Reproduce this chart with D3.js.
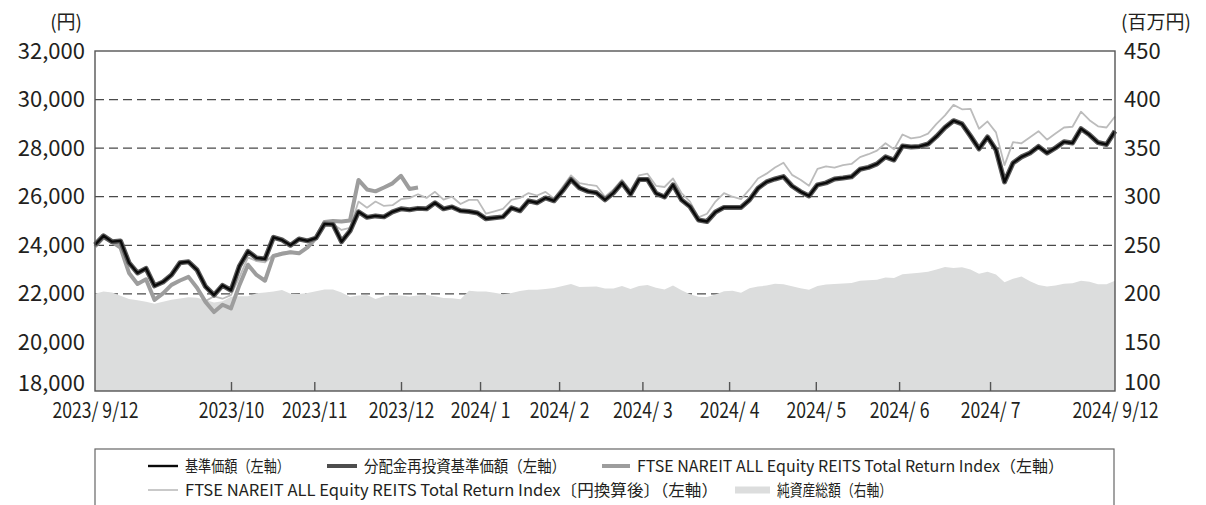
<!doctype html>
<html lang="ja">
<head>
<meta charset="UTF-8">
<title>基準価額の推移</title>
<style>
    body { margin: 0; background: #fff; }
    svg text { font-family: 'Noto Sans CJK JP', 'Noto Sans', sans-serif; fill: #231f20; }
</style>
</head>
<body>
<svg id="chart" width="1206" height="505"></svg>
<script src="https://cdn.jsdelivr.net/npm/d3@7"></script>
<script>
// 基準価額（円）
var nav = [
    24020, 24390, 24150, 24180, 23280, 22860, 23050, 22330, 22490, 22780,
    23280, 23320, 22990, 22300, 21950, 22350, 22150, 23150, 23750, 23480,
    23440, 24330, 24220, 24000, 24260, 24180, 24300, 24880, 24860, 24150,
    24590, 25380, 25150, 25210, 25170, 25380, 25500, 25460, 25520, 25500,
    25750, 25500, 25580, 25420, 25390, 25330, 25090, 25130, 25170, 25540,
    25420, 25830, 25750, 25950, 25830, 26240, 26710, 26360, 26220, 26160,
    25870, 26160, 26570, 26100, 26710, 26710, 26140, 25990, 26490, 25870,
    25590, 25040, 24980, 25370, 25560, 25560, 25560, 25870, 26350, 26610,
    26730, 26830, 26440, 26210, 26030, 26490, 26570, 26730, 26770, 26820,
    27130, 27210, 27350, 27640, 27510, 28090, 28050, 28070, 28170, 28480,
    28850, 29130, 29000, 28500, 27970, 28460, 27930, 26610, 27390, 27640,
    27800, 28070, 27800, 28010, 28260, 28210, 28800, 28550, 28230, 28150,
    28700
];
// 分配金再投資基準価額（円）
var navReinvest = [
    24020, 24390, 24150, 24180, 23280, 22860, 23050, 22330, 22490, 22780,
    23280, 23320, 22990, 22300, 21950, 22350, 22150, 23150, 23750, 23480,
    23440, 24330, 24220, 24000, 24260, 24180, 24300, 24880, 24860, 24150,
    24590, 25380, 25150, 25210, 25170, 25380, 25500, 25460, 25520, 25500,
    25750, 25500, 25580, 25420, 25390, 25330, 25090, 25130, 25170, 25540,
    25420, 25830, 25750, 25950, 25830, 26240, 26710, 26360, 26220, 26160,
    25870, 26160, 26570, 26100, 26710, 26710, 26140, 25990, 26490, 25870,
    25590, 25040, 24980, 25370, 25560, 25560, 25560, 25870, 26350, 26610,
    26730, 26830, 26440, 26210, 26030, 26490, 26570, 26730, 26770, 26820,
    27130, 27210, 27350, 27640, 27510, 28090, 28050, 28070, 28170, 28480,
    28850, 29130, 29000, 28500, 27970, 28460, 27930, 26610, 27390, 27640,
    27800, 28070, 27800, 28010, 28260, 28210, 28800, 28550, 28230, 28150,
    28700
];
// FTSE NAREIT ALL Equity REITS Total Return Index（2023/12途中まで）
var reitIndex = [
    23950, 24330, 24140, 23900, 22860, 22410, 22600, 21750, 22020, 22370,
    22550, 22700, 22250, 21670, 21250, 21550, 21400, 22370, 23200, 22780,
    22540, 23560, 23650, 23710, 23670, 23910, 24300, 24960, 25000, 24980,
    25020, 26690, 26300, 26220, 26380, 26550, 26860, 26320, 26380
];
// FTSE NAREIT ALL Equity REITS Total Return Index〔円換算後〕
var reitIndexJpy = [
    23950, 24330, 24140, 23900, 22870, 22420, 22600, 21760, 22030, 22380,
    22560, 22710, 22260, 21700, 21900, 21800, 21950, 22700, 23500, 23350,
    23300, 23600, 23700, 23750, 23700, 23930, 24320, 24980, 24880, 24630,
    24720, 25800, 25550, 25800, 25620, 25650, 25900, 25940, 26100, 25950,
    26200, 25880, 26000, 25700, 25870, 25870, 25300, 25400, 25500, 25870,
    25950, 26150, 26050, 26200, 25930, 26400, 26880, 26560, 26500, 26450,
    26000, 26300, 26700, 26250, 26880, 26950, 26450, 26400, 26750, 26150,
    25800, 25150, 25300, 25800, 26150, 26000, 25900, 26300, 26750, 26950,
    27200, 27400, 26900, 26700, 26450, 27150, 27250, 27200, 27300, 27350,
    27630, 27750, 27900, 28200, 27950, 28560, 28400, 28450, 28600, 29000,
    29350, 29780, 29600, 29620, 28800, 29100, 28650, 27300, 28250, 28200,
    28450, 28700, 28350, 28600, 28850, 28880, 29500, 29150, 28900, 28850,
    29300
];
// 純資産総額（百万円）
var netAssets = [
    200, 202.5, 201.5, 198, 194.8, 193.3, 191.8, 189.8, 191.9, 194,
    195.1, 196.5, 196.1, 193.7, 191, 192.5, 197, 197.6, 197.5, 200.5,
    201.5, 202.5, 204, 200.2, 199.8, 200.8, 202.7, 204.5, 204.5, 201.3,
    197, 198.3, 198.9, 194.8, 197.5, 198.5, 198.3, 197.3, 198.2, 198.8,
    197.6, 195.8, 195.6, 194.5, 203.2, 202.5, 202.4, 201.2, 199.6, 200.8,
    203, 204.1, 204.1, 205, 206, 208, 210.1, 207, 207.2, 207.5,
    205.4, 205.5, 208, 205, 208, 209.2, 206.3, 204.5, 208.5, 203.8,
    199.5, 197, 196.7, 199.3, 202.7, 203.3, 201.2, 205.7, 207.5, 208.5,
    210.3, 210, 207.8, 205.7, 204.3, 208, 209.7, 210.2, 210.6, 211.3,
    213.4, 213.9, 214.5, 216.9, 216.3, 220.3, 221, 221.6, 222.7, 225,
    227.7, 226.5, 227.5, 225, 220.8, 222.8, 220, 212, 215.6, 217.9,
    213, 209, 207.5, 208.7, 210.4, 210.9, 213.4, 212.5, 209.9, 209.8,
    213.4
];

// x軸の目盛り（データ番号上の位置）
var tickIndex = [0, 16, 25.8, 36, 45.3, 54.6, 64.4, 74.6, 84.8, 94.6, 105.3, 120];
var tickLabels = ['2023/ 9/12', '2023/10', '2023/11', '2023/12', '2024/ 1', '2024/ 2',
    '2024/ 3', '2024/ 4', '2024/ 5', '2024/ 6', '2024/ 7', '2024/ 9/12'];
var leftTicks = [18000, 20000, 22000, 24000, 26000, 28000, 30000, 32000];
var rightTicks = [100, 150, 200, 250, 300, 350, 400, 450];
var gridTicks = [22000, 24000, 26000, 28000, 30000];

var plotLeft = 95, plotRight = 1115, plotTop = 51, plotBottom = 391;
var svg = d3.select('#chart');

var x = d3.scaleLinear().domain([0, nav.length - 1]).range([plotLeft, plotRight]);
var yL = d3.scaleLinear().domain([18000, 32000]).range([plotBottom, plotTop]);
var yR = d3.scaleLinear().domain([100, 450]).range([plotBottom, plotTop]);

// grid
svg.append('g').selectAll('line').data(gridTicks).enter().append('line')
    .attr('x1', plotLeft).attr('x2', plotRight)
    .attr('y1', function(d) { return yL(d) }).attr('y2', function(d) { return yL(d) })
    .attr('stroke', '#4a4a4a').attr('stroke-width', 1.3).attr('stroke-dasharray', '9,5');

// 純資産総額
var area = d3.area()
    .x(function(d, i) { return x(i) })
    .y0(plotBottom)
    .y1(function(d) { return yR(d) });
svg.append('path').attr('d', area(netAssets)).attr('fill', '#dcdddd');

function line(scale) {
    return d3.line()
        .x(function(d, i) { return x(i) })
        .y(function(d) { return scale(d) });
}

svg.append('path').attr('d', line(yL)(reitIndexJpy))
    .attr('fill', 'none').attr('stroke', '#bcbcbc').attr('stroke-width', 1.8)
    .attr('stroke-linejoin', 'round');
svg.append('path').attr('d', line(yL)(reitIndex))
    .attr('fill', 'none').attr('stroke', '#9d9d9d').attr('stroke-width', 4)
    .attr('stroke-linejoin', 'round');
svg.append('path').attr('d', line(yL)(navReinvest))
    .attr('fill', 'none').attr('stroke', '#595959').attr('stroke-width', 5)
    .attr('stroke-linejoin', 'round');
svg.append('path').attr('d', line(yL)(nav))
    .attr('fill', 'none').attr('stroke', '#0a0a0a').attr('stroke-width', 2.4)
    .attr('stroke-linejoin', 'round');

// frame
svg.append('rect').attr('x', plotLeft).attr('y', plotTop)
    .attr('width', plotRight - plotLeft).attr('height', plotBottom - plotTop)
    .attr('fill', 'none').attr('stroke', '#555').attr('stroke-width', 1.4);

// x axis
var xAxis = d3.axisBottom(x).tickValues(tickIndex)
    .tickFormat(function(d, i) { return tickLabels[i] })
    .tickSizeInner(-9).tickSizeOuter(0).tickPadding(0);
var gx = svg.append('g').attr('transform', 'translate(0,' + plotBottom + ')').call(xAxis);
gx.select('.domain').remove();
gx.selectAll('.tick line').attr('stroke', '#555').attr('stroke-width', 1.4)
    .style('display', function(d, i) { return (i === 0 || i === tickIndex.length - 1) ? 'none' : null });
gx.selectAll('.tick text').attr('y', 0).attr('dy', 0)
    .attr('transform', 'translate(0,27) scale(0.84,1)')
    .attr('font-size', 21).attr('fill', '#231f20');

// left axis (lowest label lifted clear of the date labels)
var gl = svg.append('g').attr('transform', 'translate(' + plotLeft + ',0)')
    .call(d3.axisLeft(yL).tickValues(leftTicks).tickFormat(d3.format(',')).tickSize(0).tickPadding(10));
gl.select('.domain').remove();
gl.selectAll('.tick text').attr('font-size', 22).attr('fill', '#231f20')
    .attr('y', function(d) { return d === 18000 ? -8 : 0 });

// right axis
var gr = svg.append('g').attr('transform', 'translate(' + plotRight + ',0)')
    .call(d3.axisRight(yR).tickValues(rightTicks).tickSize(0).tickPadding(9));
gr.select('.domain').remove();
gr.selectAll('.tick text').attr('font-size', 22).attr('fill', '#231f20')
    .attr('y', function(d) { return d === 100 ? -9 : 0 });

svg.append('text').attr('x', 82).attr('y', 29).attr('text-anchor', 'end')
    .attr('font-size', 19).text('(円)');
svg.append('text').attr('x', 1121).attr('y', 29)
    .attr('font-size', 19).text('(百万円)');

// legend
svg.append('rect').attr('x', 95).attr('y', 449).attr('width', 1019).attr('height', 100)
    .attr('fill', 'none').attr('stroke', '#666').attr('stroke-width', 1.2);

var legend = [
    { x: 148, y: 466, w: 30, color: '#0a0a0a', sw: 2.4, label: '基準価額（左軸）', tl: 105 },
    { x: 327, y: 466, w: 30, color: '#4d4d4d', sw: 4, label: '分配金再投資基準価額（左軸）', tl: 202 },
    { x: 602, y: 466, w: 28, color: '#9d9d9d', sw: 4, label: 'FTSE NAREIT ALL Equity REITS Total Return Index（左軸）', tl: 427 },
    { x: 148, y: 490, w: 30, color: '#bcbcbc', sw: 1.6, label: 'FTSE NAREIT ALL Equity REITS Total Return Index〔円換算後〕（左軸）', tl: 533 },
    { x: 735, y: 490, w: 35, color: '#dcdddd', sw: 7, label: '純資産総額（右軸）', tl: 115 }
];
var lg = svg.append('g').selectAll('g').data(legend).enter().append('g');
lg.append('line')
    .attr('x1', function(d) { return d.x }).attr('x2', function(d) { return d.x + d.w })
    .attr('y1', function(d) { return d.y }).attr('y2', function(d) { return d.y })
    .attr('stroke', function(d) { return d.color }).attr('stroke-width', function(d) { return d.sw });
lg.append('text')
    .attr('x', function(d) { return d.x + d.w + 7 })
    .attr('y', function(d) { return d.y + 6 })
    .attr('font-size', 16)
    .attr('textLength', function(d) { return d.tl })
    .attr('lengthAdjust', 'spacingAndGlyphs')
    .text(function(d) { return d.label });
</script>
</body>
</html>
